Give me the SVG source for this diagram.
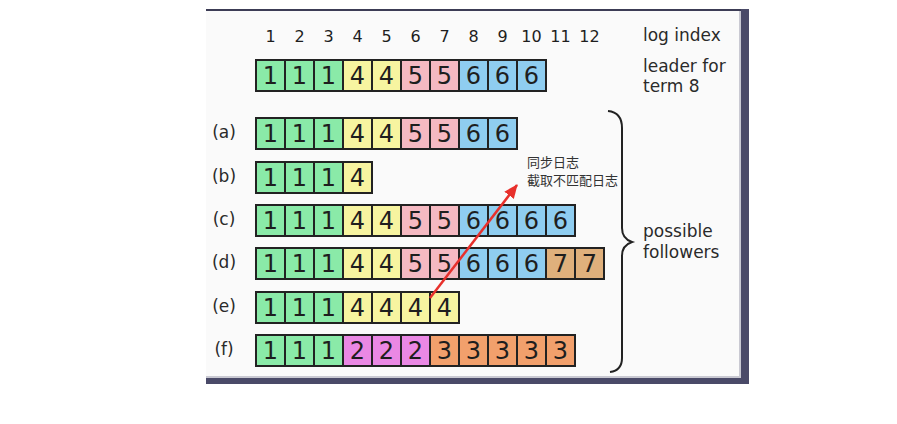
<svg xmlns="http://www.w3.org/2000/svg" width="897" height="424" viewBox="0 0 897 424">
<style>
.c{stroke:#222;stroke-width:2}
.g{fill:#8aeaa8}.y{fill:#f7f4a0}.p{fill:#f5b9c2}.b{fill:#8fcdf0}.t{fill:#dfb07c}.o{fill:#f2a06c}.m{fill:#ea88e4}
.n{font-family:"DejaVu Sans",sans-serif;font-size:24px;fill:#1e1e1e;text-anchor:middle}
.i{font-family:"DejaVu Sans",sans-serif;font-size:16px;fill:#1e1e1e;text-anchor:middle}
.l{font-family:"DejaVu Sans",sans-serif;font-size:17px;fill:#2a2a2a;text-anchor:middle}
.r{font-family:"DejaVu Sans",sans-serif;font-size:17px;fill:#2a2a2a}
.z{font-family:"Noto Sans CJK SC",sans-serif;font-size:13px;fill:#333}
</style>
<defs>
<marker id="ah" markerWidth="14" markerHeight="12" refX="13" refY="6" orient="auto" markerUnits="userSpaceOnUse">
<path d="M0,0 L14,6 L0,12 Z" fill="#e8302c"/>
</marker>
</defs>
<rect x="0" y="0" width="897" height="424" fill="#fff"/>
<g id="frame">
<rect x="206" y="10" width="539" height="370" fill="#fafafa"/>
<rect x="206" y="9" width="543" height="2" fill="#3c3c55"/>
<rect x="741" y="9" width="8" height="375" fill="#4a4a68"/>
<rect x="206" y="378" width="543" height="6" fill="#4a4a68"/>
<rect x="739" y="11" width="2" height="367" fill="#c9c9d2"/>
<rect x="206" y="376" width="535" height="2" fill="#c9c9d2"/>
</g>
<g id="indices">
<text class="i" x="270.5" y="42">1</text><text class="i" x="299.5" y="42">2</text><text class="i" x="328.5" y="42">3</text><text class="i" x="357.5" y="42">4</text><text class="i" x="386.5" y="42">5</text><text class="i" x="415.5" y="42">6</text><text class="i" x="444.5" y="42">7</text><text class="i" x="473.5" y="42">8</text><text class="i" x="502.5" y="42">9</text><text class="i" x="531.5" y="42">10</text><text class="i" x="560.5" y="42">11</text><text class="i" x="589.5" y="42">12</text>
<text class="r" x="643" y="41">log index</text>
</g>
<g id="leader">
<rect class="c g" x="256" y="60" width="29" height="31"/><text class="n" x="270.5" y="84">1</text>
<rect class="c g" x="285" y="60" width="29" height="31"/><text class="n" x="299.5" y="84">1</text>
<rect class="c g" x="314" y="60" width="29" height="31"/><text class="n" x="328.5" y="84">1</text>
<rect class="c y" x="343" y="60" width="29" height="31"/><text class="n" x="357.5" y="84">4</text>
<rect class="c y" x="372" y="60" width="29" height="31"/><text class="n" x="386.5" y="84">4</text>
<rect class="c p" x="401" y="60" width="29" height="31"/><text class="n" x="415.5" y="84">5</text>
<rect class="c p" x="430" y="60" width="29" height="31"/><text class="n" x="444.5" y="84">5</text>
<rect class="c b" x="459" y="60" width="29" height="31"/><text class="n" x="473.5" y="84">6</text>
<rect class="c b" x="488" y="60" width="29" height="31"/><text class="n" x="502.5" y="84">6</text>
<rect class="c b" x="517" y="60" width="29" height="31"/><text class="n" x="531.5" y="84">6</text>
<text class="r" x="643" y="72">leader for</text>
<text class="r" x="643" y="92">term 8</text>
</g>
<g id="row-a">
<text class="l" x="224" y="138">(a)</text>
<rect class="c g" x="256" y="118" width="29" height="31"/><text class="n" x="270.5" y="142">1</text>
<rect class="c g" x="285" y="118" width="29" height="31"/><text class="n" x="299.5" y="142">1</text>
<rect class="c g" x="314" y="118" width="29" height="31"/><text class="n" x="328.5" y="142">1</text>
<rect class="c y" x="343" y="118" width="29" height="31"/><text class="n" x="357.5" y="142">4</text>
<rect class="c y" x="372" y="118" width="29" height="31"/><text class="n" x="386.5" y="142">4</text>
<rect class="c p" x="401" y="118" width="29" height="31"/><text class="n" x="415.5" y="142">5</text>
<rect class="c p" x="430" y="118" width="29" height="31"/><text class="n" x="444.5" y="142">5</text>
<rect class="c b" x="459" y="118" width="29" height="31"/><text class="n" x="473.5" y="142">6</text>
<rect class="c b" x="488" y="118" width="29" height="31"/><text class="n" x="502.5" y="142">6</text>
</g>
<g id="row-b">
<text class="l" x="224" y="182">(b)</text>
<rect class="c g" x="256" y="162" width="29" height="31"/><text class="n" x="270.5" y="186">1</text>
<rect class="c g" x="285" y="162" width="29" height="31"/><text class="n" x="299.5" y="186">1</text>
<rect class="c g" x="314" y="162" width="29" height="31"/><text class="n" x="328.5" y="186">1</text>
<rect class="c y" x="343" y="162" width="29" height="31"/><text class="n" x="357.5" y="186">4</text>
</g>
<g id="row-c">
<text class="l" x="224" y="225">(c)</text>
<rect class="c g" x="256" y="205" width="29" height="31"/><text class="n" x="270.5" y="229">1</text>
<rect class="c g" x="285" y="205" width="29" height="31"/><text class="n" x="299.5" y="229">1</text>
<rect class="c g" x="314" y="205" width="29" height="31"/><text class="n" x="328.5" y="229">1</text>
<rect class="c y" x="343" y="205" width="29" height="31"/><text class="n" x="357.5" y="229">4</text>
<rect class="c y" x="372" y="205" width="29" height="31"/><text class="n" x="386.5" y="229">4</text>
<rect class="c p" x="401" y="205" width="29" height="31"/><text class="n" x="415.5" y="229">5</text>
<rect class="c p" x="430" y="205" width="29" height="31"/><text class="n" x="444.5" y="229">5</text>
<rect class="c b" x="459" y="205" width="29" height="31"/><text class="n" x="473.5" y="229">6</text>
<rect class="c b" x="488" y="205" width="29" height="31"/><text class="n" x="502.5" y="229">6</text>
<rect class="c b" x="517" y="205" width="29" height="31"/><text class="n" x="531.5" y="229">6</text>
<rect class="c b" x="546" y="205" width="29" height="31"/><text class="n" x="560.5" y="229">6</text>
</g>
<g id="row-d">
<text class="l" x="224" y="268">(d)</text>
<rect class="c g" x="256" y="248" width="29" height="31"/><text class="n" x="270.5" y="272">1</text>
<rect class="c g" x="285" y="248" width="29" height="31"/><text class="n" x="299.5" y="272">1</text>
<rect class="c g" x="314" y="248" width="29" height="31"/><text class="n" x="328.5" y="272">1</text>
<rect class="c y" x="343" y="248" width="29" height="31"/><text class="n" x="357.5" y="272">4</text>
<rect class="c y" x="372" y="248" width="29" height="31"/><text class="n" x="386.5" y="272">4</text>
<rect class="c p" x="401" y="248" width="29" height="31"/><text class="n" x="415.5" y="272">5</text>
<rect class="c p" x="430" y="248" width="29" height="31"/><text class="n" x="444.5" y="272">5</text>
<rect class="c b" x="459" y="248" width="29" height="31"/><text class="n" x="473.5" y="272">6</text>
<rect class="c b" x="488" y="248" width="29" height="31"/><text class="n" x="502.5" y="272">6</text>
<rect class="c b" x="517" y="248" width="29" height="31"/><text class="n" x="531.5" y="272">6</text>
<rect class="c t" x="546" y="248" width="29" height="31"/><text class="n" x="560.5" y="272">7</text>
<rect class="c t" x="575" y="248" width="29" height="31"/><text class="n" x="589.5" y="272">7</text>
</g>
<g id="row-e">
<text class="l" x="224" y="312">(e)</text>
<rect class="c g" x="256" y="292" width="29" height="31"/><text class="n" x="270.5" y="316">1</text>
<rect class="c g" x="285" y="292" width="29" height="31"/><text class="n" x="299.5" y="316">1</text>
<rect class="c g" x="314" y="292" width="29" height="31"/><text class="n" x="328.5" y="316">1</text>
<rect class="c y" x="343" y="292" width="29" height="31"/><text class="n" x="357.5" y="316">4</text>
<rect class="c y" x="372" y="292" width="29" height="31"/><text class="n" x="386.5" y="316">4</text>
<rect class="c y" x="401" y="292" width="29" height="31"/><text class="n" x="415.5" y="316">4</text>
<rect class="c y" x="430" y="292" width="29" height="31"/><text class="n" x="444.5" y="316">4</text>
</g>
<g id="row-f">
<text class="l" x="224" y="355">(f)</text>
<rect class="c g" x="256" y="335" width="29" height="31"/><text class="n" x="270.5" y="359">1</text>
<rect class="c g" x="285" y="335" width="29" height="31"/><text class="n" x="299.5" y="359">1</text>
<rect class="c g" x="314" y="335" width="29" height="31"/><text class="n" x="328.5" y="359">1</text>
<rect class="c m" x="343" y="335" width="29" height="31"/><text class="n" x="357.5" y="359">2</text>
<rect class="c m" x="372" y="335" width="29" height="31"/><text class="n" x="386.5" y="359">2</text>
<rect class="c m" x="401" y="335" width="29" height="31"/><text class="n" x="415.5" y="359">2</text>
<rect class="c o" x="430" y="335" width="29" height="31"/><text class="n" x="444.5" y="359">3</text>
<rect class="c o" x="459" y="335" width="29" height="31"/><text class="n" x="473.5" y="359">3</text>
<rect class="c o" x="488" y="335" width="29" height="31"/><text class="n" x="502.5" y="359">3</text>
<rect class="c o" x="517" y="335" width="29" height="31"/><text class="n" x="531.5" y="359">3</text>
<rect class="c o" x="546" y="335" width="29" height="31"/><text class="n" x="560.5" y="359">3</text>
</g>
<g id="followers">
<path d="M608,111 C618,112 622,118 622,128 L622,228 C622,236 626,240 632,242 C626,244 622,248 622,256 L622,358 C622,366 618,371 610,372" fill="none" stroke="#222" stroke-width="2"/>
<text class="r" x="643" y="237">possible</text>
<text class="r" x="643" y="258">followers</text>
</g>
<g id="note">
<text class="z" x="527" y="167">同步日志</text>
<text class="z" x="527" y="185">截取不匹配日志</text>
</g>
<g id="connectors">
<line x1="430" y1="298" x2="517" y2="185" stroke="#e8302c" stroke-width="2.5" marker-end="url(#ah)"/>
</g>
</svg>
